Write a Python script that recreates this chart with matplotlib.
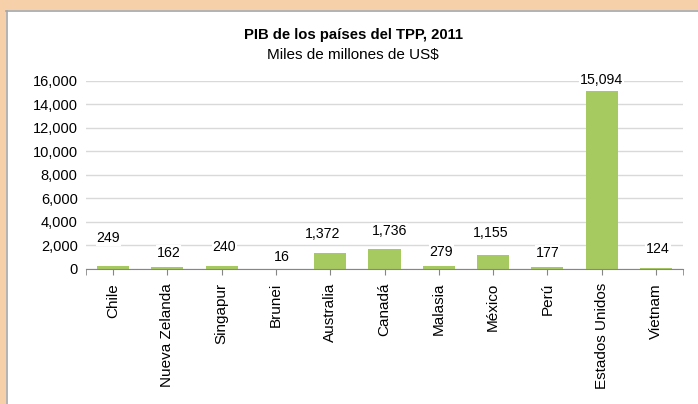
import matplotlib.pyplot as plt
from matplotlib.patches import Rectangle
import numpy as np

paises = ["Chile", "Nueva Zelanda", "Singapur", "Brunei", "Australia", "Canadá",
          "Malasia", "México", "Perú", "Estados Unidos", "Vietnam"]
pib = [249, 162, 240, 16, 1372, 1736, 279, 1155, 177, 15094, 124]
# where the data labels sit (Excel placed them by hand)
label_y = [2630, 1360, 1870, 1020, 2970, 3220, 1440, 3050, 1360, 16040, 1700]
label_dx = [-0.09, 0.02, 0.05, 0.11, -0.15, 0.09, 0.05, -0.04, 0.0, 0.0, 0.04]
yticks = [0, 2000, 4000, 6000, 8000, 10000, 12000, 14000, 16000]

plt.rcParams['font.family'] = ['Liberation Sans', 'DejaVu Sans']

fig = plt.figure(figsize=(6.98, 4.04), dpi=100, facecolor='#F5D0A9')
# white panel with grey edge on top/left
fig.patches.append(Rectangle((6/698, 0), 1, 1 - 10/404, transform=fig.transFigure,
                             facecolor='white', edgecolor='none', zorder=-5))
fig.lines.append(plt.Line2D([6/698, 1], [1 - 10.5/404, 1 - 10.5/404], transform=fig.transFigure,
                            color='#A6A6A6', lw=1.2, zorder=-4))
fig.lines.append(plt.Line2D([6.5/698, 6.5/698], [0, 1 - 10.5/404], transform=fig.transFigure,
                            color='#A6A6A6', lw=1.2, zorder=-4))

ax = fig.add_axes([86/698, 135/404, 597/698, 188.3/404])
ax.set_facecolor('none')
x = np.arange(len(paises))
ax.bar(x, pib, width=0.59, color='#A6C960', zorder=2)

for i, v in enumerate(pib):
    ax.text(x[i] + label_dx[i], label_y[i], f"{v:,}", ha='center', va='center', fontsize=10.2,
            color='black', zorder=4,
            bbox=dict(facecolor='white', edgecolor='none', pad=0.5))

ax.set_xlim(-0.5, len(paises) - 0.5)
ax.set_ylim(0, 16000)
ax.set_yticks(yticks)
ax.set_yticklabels([f"{t:,}" for t in yticks], fontsize=10.5)
ax.yaxis.grid(True, color='#D9D9D9', lw=1, zorder=1)
ax.set_xticks(x)
ax.set_xticklabels(paises, rotation=90, fontsize=11)
ax.set_xticks([-0.5, len(paises) - 0.5], minor=True)
ax.tick_params(axis='x', which='both', length=4, color='#868686', pad=6)
ax.tick_params(axis='y', length=0, pad=6)
for s in ['top', 'right', 'left']:
    ax.spines[s].set_visible(False)
ax.spines['bottom'].set_color('#868686')
ax.spines['bottom'].set_zorder(3)

fig.text(353/698, 1 - 35/404, "PIB de los países del TPP, 2011", ha='center', va='center',
         fontsize=10.7, fontweight='bold')
fig.text(353/698, 1 - 55/404, "Miles de millones de US$", ha='center', va='center', fontsize=11)

fig.savefig("out.png", dpi=100, facecolor=fig.get_facecolor())
